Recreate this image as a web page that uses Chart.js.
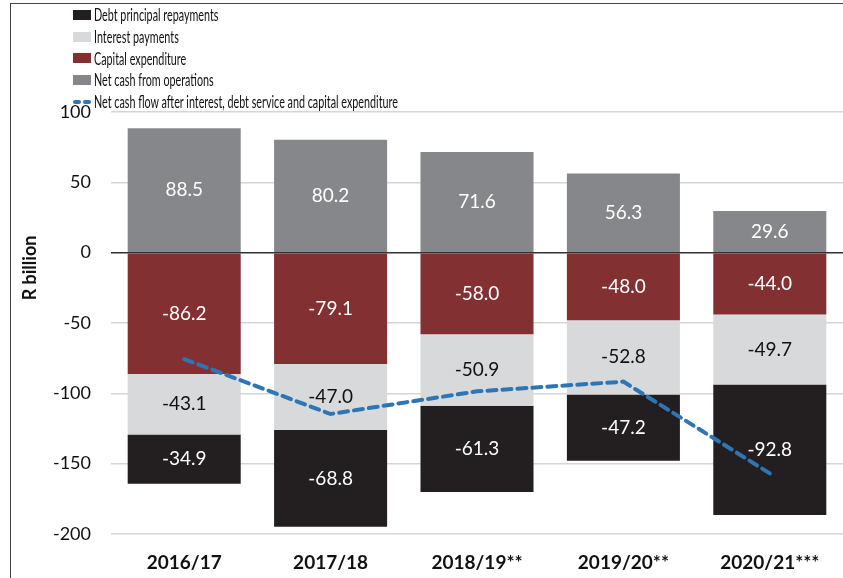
<!DOCTYPE html>
<html lang="en">
<head>
  <meta charset="UTF-8">
  <title>Net cash flow</title>
  <script src="https://cdn.jsdelivr.net/npm/chart.js"></script>
  <style>
    body { margin: 0; background: #fff; }
    #wrap { position: relative; width: 843px; height: 578px; overflow: hidden; }
    #frame { position: absolute; left: 10px; top: 3px; right: 0; bottom: 0;
             border-left: 1.5px solid #444; border-top: 1.5px solid #444; }
    #legend { position: absolute; left: 73px; top: 4px; font-family: Lato, sans-serif;
              font-size: 17.5px; color: #111; }
    .row { height: 21.7px; display: flex; align-items: center; white-space: nowrap; }
    .box { width: 18px; height: 10px; margin-right: 3px; flex: none; }
    .dash { width: 18px; height: 4px; margin-right: 3px; flex: none; position: relative; }
    .dash i { position: absolute; top: 0; width: 8px; height: 4px; border-radius: 2px; background: #2e75b6; }
    .txt { display: inline-block; transform: scaleX(0.615); transform-origin: left center; }
  </style>
</head>
<body>
  <div id="wrap">
    <canvas id="chart" width="843" height="578"></canvas>
    <div id="frame"></div>
    <div id="legend"></div>
  </div>

  <script>
    const years = ['2016/17', '2017/18', '2018/19**', '2019/20**', '2020/21***'];
    const netOperations = [88.5, 80.2, 71.6, 56.3, 29.6];
    const capitalExpenditure = [-86.2, -79.1, -58.0, -48.0, -44.0];
    const interestPayments = [-43.1, -47.0, -50.9, -52.8, -49.7];
    const debtRepayments = [-34.9, -68.8, -61.3, -47.2, -92.8];
    const netCashFlow = [-75.7, -114.7, -98.6, -91.7, -156.9];

    const FONT = 'Lato';

    // legend, same order as the picture
    const legendItems = [
      { label: 'Debt principal repayments', color: '#231f20' },
      { label: 'Interest payments', color: '#d8d9db' },
      { label: 'Capital expenditure', color: '#833033' },
      { label: 'Net cash from operations', color: '#86878b' },
      { label: 'Net cash flow after interest, debt service and capital expenditure', dashed: true }
    ];
    const legend = document.getElementById('legend');
    legendItems.forEach(item => {
      const row = document.createElement('div');
      row.className = 'row';
      const mark = document.createElement('span');
      if (item.dashed) {
        mark.className = 'dash';
        mark.innerHTML = '<i style="left:0"></i><i style="left:10px"></i>';
      } else {
        mark.className = 'box';
        mark.style.background = item.color;
      }
      const txt = document.createElement('span');
      txt.className = 'txt';
      txt.textContent = item.label;
      row.appendChild(mark);
      row.appendChild(txt);
      legend.appendChild(row);
    });

    // value labels in the middle of every bar segment
    const barLabels = {
      id: 'barLabels',
      afterDatasetsDraw(chart) {
        const ctx = chart.ctx;
        ctx.save();
        ctx.font = '19px ' + FONT;
        ctx.textAlign = 'center';
        ctx.textBaseline = 'middle';
        chart.data.datasets.forEach((ds, i) => {
          if (ds.type === 'line') return;
          const meta = chart.getDatasetMeta(i);
          meta.data.forEach((bar, j) => {
            const p = bar.getProps(['x', 'y', 'base'], true);
            ctx.fillStyle = ds.labelColor;
            ctx.fillText(ds.data[j].toFixed(1), p.x, (p.y + p.base) / 2);
          });
        });
        ctx.restore();
      }
    };

    // rotated axis title, placed as in the picture
    const axisTitle = {
      id: 'axisTitle',
      afterDraw(chart) {
        const ctx = chart.ctx;
        ctx.save();
        ctx.translate(30, 268);
        ctx.rotate(-Math.PI / 2);
        ctx.font = 'bold 18px ' + FONT;
        ctx.fillStyle = '#111';
        ctx.textAlign = 'center';
        ctx.textBaseline = 'middle';
        ctx.fillText('R billion', 0, 0);
        ctx.restore();
      }
    };

    const ctx = document.getElementById('chart').getContext('2d');
    new Chart(ctx, {
      type: 'bar',
      data: {
        labels: years,
        datasets: [
          { label: 'Net cash from operations', data: netOperations, backgroundColor: '#86878b', labelColor: '#fff', stack: 'cash', order: 1 },
          { label: 'Capital expenditure', data: capitalExpenditure, backgroundColor: '#833033', labelColor: '#fff', stack: 'cash', order: 1 },
          { label: 'Interest payments', data: interestPayments, backgroundColor: '#d8d9db', labelColor: '#111', stack: 'cash', order: 1 },
          { label: 'Debt principal repayments', data: debtRepayments, backgroundColor: '#231f20', labelColor: '#fff', stack: 'cash', order: 1 },
          {
            type: 'line',
            label: 'Net cash flow after interest, debt service and capital expenditure',
            data: netCashFlow,
            stack: 'flow',
            borderColor: '#2e75b6',
            borderWidth: 4,
            borderDash: [9, 6],
            borderCapStyle: 'round',
            pointRadius: 0,
            tension: 0,
            fill: false,
            order: 0
          }
        ]
      },
      options: {
        responsive: false,
        animation: false,
        layout: { padding: { top: 112, right: 0, bottom: 0, left: 0 } },
        plugins: {
          legend: { display: false },
          tooltip: { enabled: false }
        },
        datasets: {
          bar: { categoryPercentage: 1, barPercentage: 0.772 }
        },
        scales: {
          x: {
            stacked: true,
            grid: { display: false, drawTicks: false },
            border: { display: false },
            ticks: { color: '#111', padding: 17, font: { family: FONT, size: 19, weight: 'bold' } },
            afterFit: s => { s.height = 44; }
          },
          y: {
            stacked: true,
            min: -200,
            max: 100,
            grid: {
              drawTicks: false,
              lineWidth: 1.5,
              color: c => c.tick && c.tick.value === 0 ? '#333' : '#d6d6d6'
            },
            border: { display: false },
            ticks: { stepSize: 50, color: '#111', padding: 20, font: { family: FONT, size: 18 } },
            afterFit: s => { s.width = 111; }
          }
        }
      },
      plugins: [barLabels, axisTitle]
    });
  </script>
</body>
</html>
